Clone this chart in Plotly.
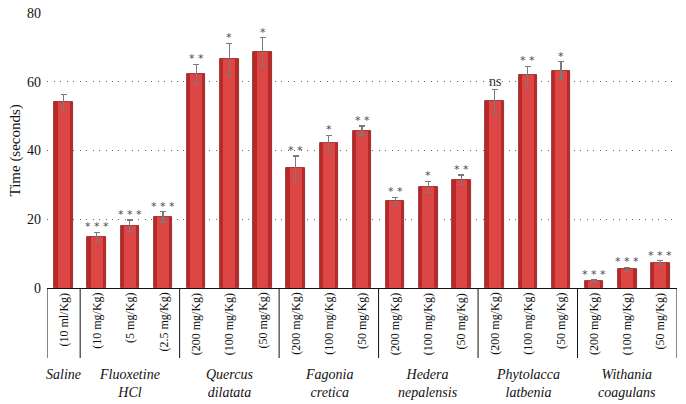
import plotly.graph_objects as go

dose_labels = ["(10 ml/Kg)",
               "(10 mg/Kg)", "(5 mg/Kg)", "(2.5 mg/Kg)",
               "(200 mg/Kg)", "(100 mg/Kg)", "(50 mg/Kg)",
               "(200 mg/Kg)", "(100 mg/Kg)", "(50 mg/Kg)",
               "(200 mg/Kg)", "(100 mg/Kg)", "(50 mg/Kg)",
               "(200 mg/Kg)", "(100 mg/Kg)", "(50 mg/Kg)",
               "(200 mg/Kg)", "(100 mg/Kg)", "(50 mg/Kg)"]
values = [54.2, 14.7, 18.1, 20.7, 62.3, 66.5, 68.6, 34.8, 42.2, 45.8,
          25.2, 29.4, 31.5, 54.4, 61.9, 63.2, 2.0, 5.4, 7.2]
errors = [2.0, 1.5, 1.7, 1.5, 2.8, 4.7, 4.2, 3.6, 2.2, 1.3,
          1.2, 1.6, 1.4, 3.4, 2.6, 2.6, 0.3, 0.6, 0.7]
signif = ["", "***", "***", "***", "**", "*", "*", "**", "*", "**",
          "**", "*", "**", "ns", "**", "*", "***", "***", "***"]
group_names = ["<i>Saline</i>", "<i>Fluoxetine<br>HCl</i>", "<i>Quercus<br>dilatata</i>",
               "<i>Fagonia<br>cretica</i>", "<i>Hedera<br>nepalensis</i>",
               "<i>Phytolacca<br>latbenia</i>", "<i>Withania<br>coagulans</i>"]
group_sizes = [1, 3, 3, 3, 3, 3, 3]

x = list(range(len(values)))
FONT = "Liberation Serif"
PLOT_H = 275.0

fig = go.Figure()
fig.add_trace(go.Bar(x=x, y=values, width=0.56,
                     marker=dict(color="#b82a2a", line=dict(color="#8e1a1a", width=0.8)),
                     hoverinfo="skip"))
fig.add_trace(go.Bar(x=x, y=values, width=0.36,
                     marker=dict(color="#dc4645", line=dict(width=0)),
                     error_y=dict(type="data", array=errors, color="#7a7a7a",
                                  thickness=1.2, width=3),
                     hoverinfo="skip"))

annotations = []
for i, (v, e, s) in enumerate(zip(values, errors, signif)):
    if s == "ns":
        annotations.append(dict(x=i, y=v + e, text="ns", showarrow=False,
                                yanchor="bottom", yshift=-2,
                                font=dict(family=FONT, size=14, color="#333")))
    elif s:
        annotations.append(dict(x=i, y=v + e, text=" ".join(list(s)), showarrow=False,
                                yanchor="bottom", yshift=-3,
                                font=dict(family="DejaVu Sans", size=11, color="#4a4a4a")))
for i, lab in enumerate(dose_labels):
    annotations.append(dict(x=i, y=0, xref="x", yref="y", text=lab, textangle=-90,
                            showarrow=False, yanchor="top", yshift=-3,
                            font=dict(family=FONT, size=12, color="#111")))

shapes = []
start = 0
bounds = [-0.5]
for g, n in zip(group_names, group_sizes):
    center = start + (n - 1) / 2
    annotations.append(dict(x=center, y=-77 / PLOT_H, xref="x", yref="paper", text=g,
                            showarrow=False, yanchor="top",
                            font=dict(family=FONT, size=14, color="#111")))
    start += n
    bounds.append(start - 0.5)
for b in bounds:
    shapes.append(dict(type="line", xref="x", yref="paper", x0=b, x1=b, y0=0,
                       y1=-70 / PLOT_H, line=dict(color="#111", width=1)))

annotations.append(dict(x=-32 / 630, y=0.5, xref="paper", yref="paper",
                        text="Time (seconds)", textangle=-90, showarrow=False,
                        xanchor="center", yanchor="middle",
                        font=dict(family=FONT, size=15, color="#111")))

fig.update_layout(
    width=686, height=404,
    margin=dict(l=47, r=9, t=13, b=116),
    paper_bgcolor="white", plot_bgcolor="white",
    barmode="overlay", bargap=0, showlegend=False,
    annotations=annotations, shapes=shapes,
    font=dict(family=FONT, color="#111"),
    xaxis=dict(range=[-0.5, 18.5], showticklabels=False, ticks="", showgrid=False,
               zeroline=False, showline=True, linecolor="#111", linewidth=1.2,
               automargin=False),
    yaxis=dict(range=[0, 80], tickvals=[0, 20, 40, 60, 80], showline=False, zeroline=False,
               showgrid=True, gridcolor="#666", griddash="1px,5.5px", gridwidth=1,
               tickfont=dict(family=FONT, size=14, color="#111"), ticks="",
               ticklabelstandoff=5, automargin=False),
)
fig.write_html("out.html", config={"displayModeBar": False},
               post_script="document.body.style.margin='0';document.body.style.padding='0';")
